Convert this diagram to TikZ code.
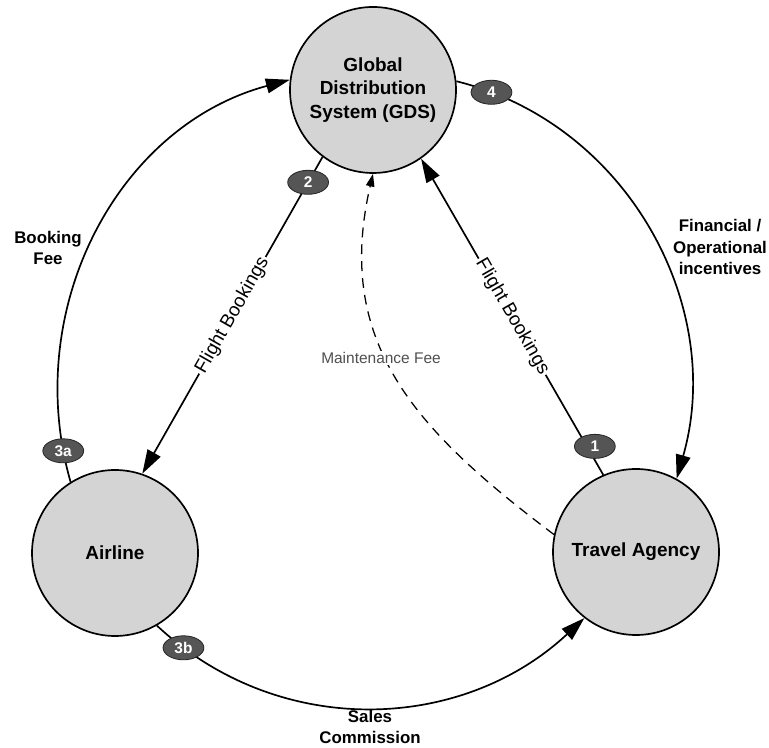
\documentclass[tikz,border=0pt]{standalone}
\usepackage{fontspec}
\setmainfont{Liberation Sans}
\usetikzlibrary{arrows.meta, shapes.geometric}

\definecolor{partyfill}{RGB}{212,212,212}
\definecolor{badgefill}{RGB}{85,85,85}
\definecolor{badgeedge}{RGB}{40,40,40}
\definecolor{feegray}{RGB}{80,80,80}

\tikzset{
	party/.style = {circle, draw, line width = 1.2pt, fill = partyfill, minimum size = 4.15cm, inner sep = 0pt, align = center, font = \fontsize{13.5}{16.5}\selectfont\bfseries},
	badge/.style = {ellipse, draw = badgeedge, line width = 0.6pt, fill = badgefill, text = white, minimum width = 1.02cm, minimum height = 0.6cm, inner sep = 0pt, font = \fontsize{11}{13}\selectfont\bfseries},
	flowlabel/.style = {align = center, font = \fontsize{12}{15}\selectfont\bfseries},
	booklabel/.style = {fill = white, inner sep = 1.5pt, font = \fontsize{13.5}{16}\selectfont},
	feelabel/.style = {fill = white, inner sep = 1pt, text = feegray, font = \fontsize{11}{13}\selectfont}
}

\begin{document}
\begin{tikzpicture}[> = {Triangle[length = 17pt, width = 10.5pt]}, line width = 1.2pt]

	% Frame
	
	\useasboundingbox (0, 0) rectangle (19.225, 18.675);
	
	% Parties
	
	\node [party] (gds) at (9.325, 16.425) {Global\\Distribution\\System (GDS)};
	\node [party] (airline) at (2.875, 4.85) {Airline};
	\node [party] (agency) at (15.9, 4.875) {Travel Agency};
	
	% Outer money flows
	
	\draw [->] (airline.122) to [out = 106, in = 195] node [badge, pos = 0.06] (b3a) {3a} (gds.173);
	\draw [->] (gds.6) to [out = -14, in = 74] node [badge, pos = 0.07] (b4) {4} (agency.61);
	\draw [->] (airline.-60) to [out = -43, in = 223] node [badge, pos = 0.07] (b3b) {3b} (agency.232);
	
	% Flight bookings
	
	\draw [->] (gds.233) -- node [badge, pos = 0.08] (b2) {2} node [booklabel, sloped] (fb2) {Flight Bookings} (airline.71);
	\draw [->] (agency.113) -- node [badge, pos = 0.09, xshift = 0.2cm] (b1) {1} node [booklabel, sloped] (fb1) {Flight Bookings} (gds.305);
	
	% Maintenance fee
	
	\draw [-{Triangle[length = 9pt, width = 6pt]}, line width = 0.9pt, dash pattern = on 7pt off 5pt] (agency.168) to [out = 143, in = 257, looseness = 1.1] (gds.270);
	
	% Labels
	
	\node [flowlabel] (bookingfee) at (1.2, 12.475) {Booking\\Fee};
	\node [flowlabel] (incentives) at (18.0, 12.5) {Financial /\\Operational\\incentives};
	\node [flowlabel] (commission) at (9.25, 0.5) {Sales\\Commission};
	\node [feelabel] (maintfee) at (9.525, 9.725) {Maintenance Fee};
	
\end{tikzpicture}
\end{document}
